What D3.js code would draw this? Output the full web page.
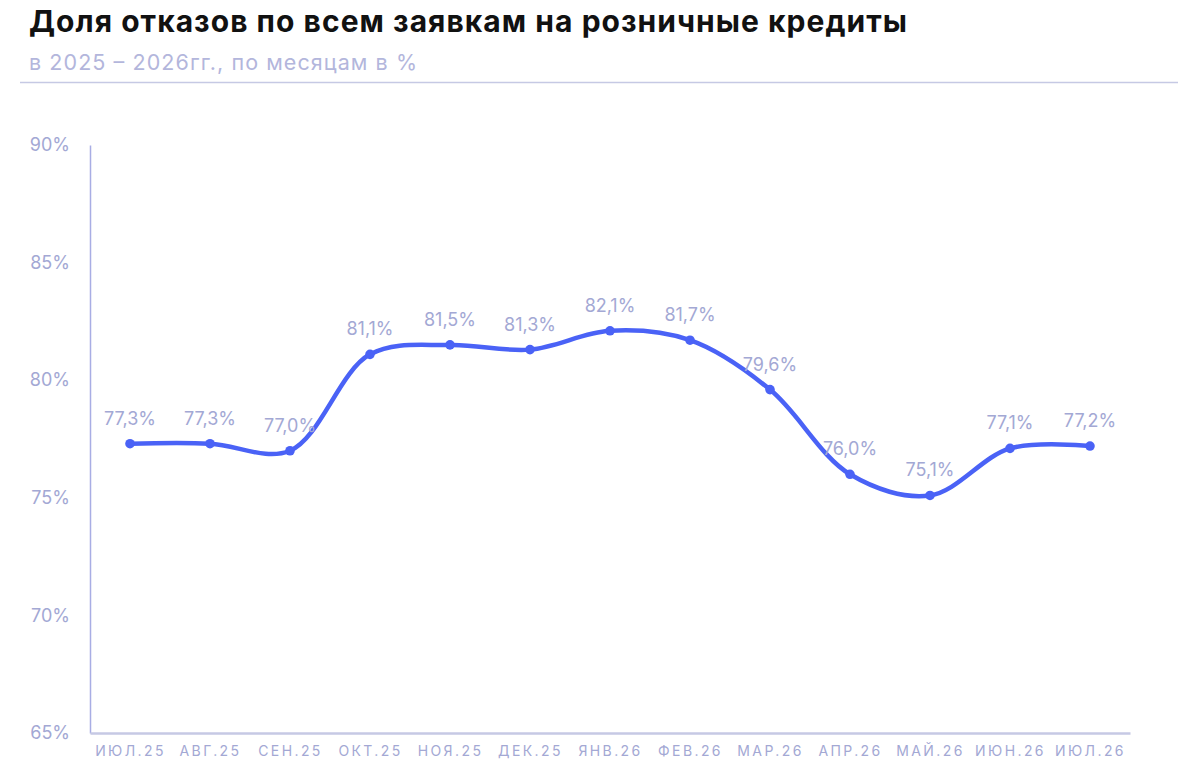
<!DOCTYPE html>
<meta charset="utf-8">

<script src="https://d3js.org/d3.v7.min.js"></script>

<style type="text/css">
  body { margin: 0; background: #fff; font-family: Inter, "Noto Sans", sans-serif; }
</style>

<body>
</body>

<script>

var months = ["ИЮЛ.25", "АВГ.25", "СЕН.25", "ОКТ.25", "НОЯ.25", "ДЕК.25", "ЯНВ.26",
              "ФЕВ.26", "МАР.26", "АПР.26", "МАЙ.26", "ИЮН.26", "ИЮЛ.26"];

var rejectShare = [77.3, 77.3, 77.0, 81.1, 81.5, 81.3, 82.1, 81.7, 79.6, 76.0, 75.1, 77.1, 77.2];

var yTicks = [65, 70, 75, 80, 85, 90];

var W = 1200, H = 780;
var margin = {top: 145, right: 70, bottom: 47, left: 90};
var width = W - margin.left - margin.right,
    height = H - margin.top - margin.bottom;

var fmt = function(d) { return d.toFixed(1).replace(".", ",") + "%"; };

var svg = d3.select("body").append("svg")
    .attr("width", W)
    .attr("height", H);

// header
svg.append("text")
    .attr("x", 29).attr("y", 32)
    .attr("font-size", 30).attr("font-weight", 700)
    .attr("fill", "#111")
    .attr("textLength", 878).attr("lengthAdjust", "spacing")
    .text("Доля отказов по всем заявкам на розничные кредиты");

svg.append("text")
    .attr("x", 29).attr("y", 70)
    .attr("font-size", 21.5)
    .attr("fill", "#b3b6dc")
    .attr("textLength", 388).attr("lengthAdjust", "spacing")
    .text("в 2025 – 2026гг., по месяцам в %");

svg.append("line")
    .attr("x1", 20).attr("x2", 1178)
    .attr("y1", 82.5).attr("y2", 82.5)
    .attr("stroke", "#c6c9e4").attr("stroke-width", 1.5);

var g = svg.append("g")
    .attr("transform", "translate(" + margin.left + "," + margin.top + ")");

var x = d3.scalePoint()
    .domain(months)
    .range([0, width])
    .padding(0.5);

var y = d3.scaleLinear()
    .domain([65, 90])
    .range([height, 0]);

// y axis
var yAxis = g.append("g")
    .call(d3.axisLeft(y).tickValues(yTicks).tickSize(0).tickPadding(20).tickFormat(function(d) { return d + "%"; }));
yAxis.select(".domain").attr("stroke", "#a8ade4").attr("stroke-width", 1.5);
yAxis.selectAll("text")
    .attr("font-size", 18)
    .attr("font-family", "Inter, sans-serif")
    .attr("fill", "#a3a8d4");

// x axis
var xAxis = g.append("g")
    .attr("transform", "translate(0," + height + ")")
    .call(d3.axisBottom(x).tickSize(0).tickPadding(13));
xAxis.select(".domain").attr("stroke", "#c6c9e4").attr("stroke-width", 2.5);
xAxis.selectAll("text")
    .attr("font-size", 14)
    .attr("letter-spacing", "2.4px")
    .attr("font-family", "Inter, sans-serif")
    .attr("fill", "#a3a8d4");

// line
var line = d3.line()
    .x(function(d, i) { return x(months[i]); })
    .y(function(d) { return y(d); })
    .curve(d3.curveCatmullRom.alpha(0.5));

g.append("path")
    .datum(rejectShare)
    .attr("fill", "none")
    .attr("stroke", "#4a62f6")
    .attr("stroke-width", 4.5)
    .attr("stroke-linecap", "round")
    .attr("d", line);

g.selectAll(".dot")
    .data(rejectShare)
  .enter().append("circle")
    .attr("class", "dot")
    .attr("cx", function(d, i) { return x(months[i]); })
    .attr("cy", function(d) { return y(d); })
    .attr("r", 4.8)
    .attr("fill", "#4a62f6");

g.selectAll(".lbl")
    .data(rejectShare)
  .enter().append("text")
    .attr("class", "lbl")
    .attr("x", function(d, i) { return x(months[i]); })
    .attr("y", function(d) { return y(d) - 19; })
    .attr("text-anchor", "middle")
    .attr("font-size", 18)
    .attr("fill", "#a3a8d4")
    .text(fmt);

</script>
